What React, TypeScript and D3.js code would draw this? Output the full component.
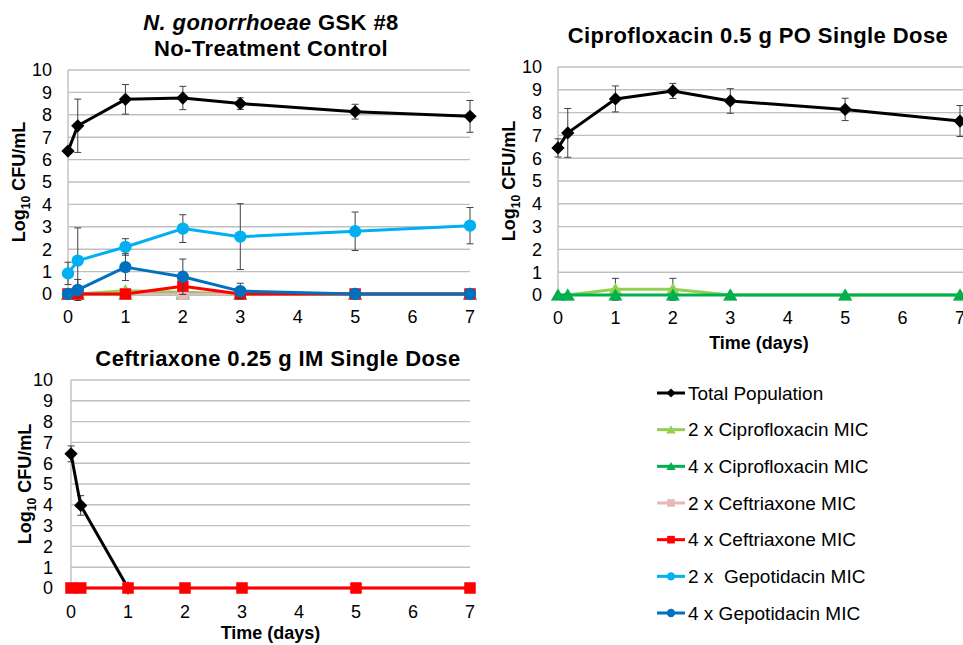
import * as d3 from "d3";

// sampling times (days) and the axis ticks
const days = [0, 0.17, 1, 2, 3, 5, 7];
const xTicks = [0, 1, 2, 3, 4, 5, 6, 7];
const yTicks = [0, 1, 2, 3, 4, 5, 6, 7, 8, 9, 10];

// no-treatment control
const controlTotal = [6.38, 7.51, 8.69, 8.75, 8.5, 8.14, 7.93];
const controlTotalErr = [0.1, 1.19, 0.66, 0.52, 0.26, 0.33, 0.71];
const controlCipro2x = [0, 0, 0.15, 0.08, 0, 0, 0];
const controlCipro4x = [0, 0, 0, 0, 0, 0, 0];
const controlCeft2x = [0, 0, 0, 0, 0, 0, 0];
const controlCeft4x = [0, 0, 0, 0.35, 0, 0, 0];
const controlGepo2x = [0.92, 1.49, 2.1, 2.92, 2.56, 2.8, 3.05];
const controlGepo2xErr = [0.5, 1.46, 0.37, 0.62, 1.47, 0.86, 0.81];
const controlGepo4x = [0, 0.18, 1.2, 0.77, 0.13, 0, 0];
const controlGepo4xErr = [0, 0.47, 0.6, 0.79, 0.35, 0, 0];

// ciprofloxacin 0.5 g
const ciproTotal = [6.45, 7.11, 8.6, 8.95, 8.51, 8.14, 7.63];
const ciproTotalErr = [0.4, 1.07, 0.57, 0.33, 0.54, 0.49, 0.68];
const ciproCipro2x = [0, 0, 0.25, 0.25, 0, 0, 0];
const ciproCipro2xErr = [0, 0, 0.48, 0.48, 0, 0, 0];
const ciproCipro4x = [0, 0, 0, 0, 0, 0, 0];

// ceftriaxone 0.25 g
const ceftTotal = [6.45, 3.97, 0, null, null, null, null];
const ceftTotalErr = [0.38, 0.47, 0, 0, 0, 0, 0];
const ceftCeft2x = [0, 0, 0, 0, 0, 0, 0];
const ceftCeft4x = [0, 0, 0, 0, 0, 0, 0];

const legendNames = [
  "Total Population",
  "2 x Ciprofloxacin MIC",
  "4 x Ciprofloxacin MIC",
  "2 x Ceftriaxone MIC",
  "4 x Ceftriaxone MIC",
  "2 x  Gepotidacin MIC",
  "4 x Gepotidacin MIC",
];

const styles = [
  { color: "#000000", shape: "diamond" },
  { color: "#92d050", shape: "triangle" },
  { color: "#00b050", shape: "triangle" },
  { color: "#e6b9b8", shape: "square" },
  { color: "#ff0000", shape: "square" },
  { color: "#00b0f0", shape: "circle" },
  { color: "#0070c0", shape: "circle" },
];

const font = "'Liberation Sans', Arial, sans-serif";

function markerPath(shape, scale = 1) {
  if (shape === "diamond") return d3.symbol(d3.symbolSquare, 88 * scale)();
  if (shape === "triangle") return d3.symbol(d3.symbolTriangle, 85 * scale)();
  if (shape === "square") return d3.symbol(d3.symbolSquare, 130 * scale)();
  return d3.symbol(d3.symbolCircle, 120 * scale)();
}

function Marker({ shape, color, x, y, scale = 1 }) {
  const rot = shape === "diamond" ? " rotate(45)" : "";
  const dy = shape === "triangle" ? 1.5 * Math.sqrt(scale) : 0;
  return (
    <path
      d={markerPath(shape, scale)}
      transform={`translate(${x},${y + dy})${rot}`}
      fill={color}
    />
  );
}

function Title({ x, y, children }) {
  return (
    <text x={x} y={y} dy="0.35em" textAnchor="middle" fontSize={22} fontWeight="bold" letterSpacing={0.4} fontFamily={font}>
      {children}
    </text>
  );
}

function Panel(props) {
  const { left, right, top, bottom, gridRight, series, tickRight, yLabelX, xTickY, xTitleY } = props;
  const x = d3.scaleLinear().domain([0, 7]).range([left, right]);
  const y = d3.scaleLinear().domain([0, 10]).range([bottom, top]);
  const line = d3
    .line()
    .defined((d) => d[1] != null)
    .x((d) => x(d[0]))
    .y((d) => y(d[1]));

  return (
    <g>
      {yTicks.map((t) => (
        <line key={t} x1={left} x2={gridRight} y1={y(t)} y2={y(t)} stroke="#bfbfbf" strokeWidth={1.4} />
      ))}
      <line x1={left} x2={left} y1={top} y2={bottom} stroke="#bfbfbf" strokeWidth={1.4} />
      {yTicks.map((t) => (
        <text key={t} x={tickRight} y={y(t)} dy="0.35em" textAnchor="end" fontSize={18} fontFamily={font}>
          {t}
        </text>
      ))}
      {xTicks.map((t) => (
        <text key={t} x={x(t)} y={xTickY} dy="0.35em" textAnchor="middle" fontSize={18} fontFamily={font}>
          {t}
        </text>
      ))}
      <text
        transform={`translate(${yLabelX},${(top + bottom) / 2}) rotate(-90)`}
        textAnchor="middle"
        dy="0.35em"
        fontSize={18}
        fontWeight="bold"
        fontFamily={font}
      >
        Log
        <tspan fontSize={12} dy="0.35em">10</tspan>
        <tspan dy="-0.25em"> CFU/mL</tspan>
      </text>
      {xTitleY != null && (
        <text x={(left + right) / 2} y={xTitleY} dy="0.35em" textAnchor="middle" fontSize={18} fontWeight="bold" fontFamily={font}>
          Time (days)
        </text>
      )}
      {series.map((s, si) => {
        const pts = days.map((d, i) => [d, s.values[i]]);
        return (
          <g key={si}>
            {s.errors &&
              pts.map((p, i) =>
                p[1] != null && s.errors[i] > 0 ? (
                  <g key={i} stroke="#404040" strokeWidth={1}>
                    <line x1={x(p[0])} x2={x(p[0])} y1={y(p[1] - s.errors[i])} y2={y(p[1] + s.errors[i])} />
                    <line x1={x(p[0]) - 3.5} x2={x(p[0]) + 3.5} y1={y(p[1] + s.errors[i])} y2={y(p[1] + s.errors[i])} />
                    <line x1={x(p[0]) - 3.5} x2={x(p[0]) + 3.5} y1={y(p[1] - s.errors[i])} y2={y(p[1] - s.errors[i])} />
                  </g>
                ) : null
              )}
            <path d={line(pts)} fill="none" stroke={s.color} strokeWidth={3} strokeLinejoin="round" />
            {pts
              .filter((p) => p[1] != null)
              .map((p, i) => (
                <Marker key={i} shape={s.shape} color={s.color} x={x(p[0])} y={y(p[1])} />
              ))}
          </g>
        );
      })}
    </g>
  );
}

function mk(idx, values, errors = null) {
  return { ...styles[idx], values, errors };
}

export default function App() {
  const controlSeries = [
    mk(0, controlTotal, controlTotalErr),
    mk(1, controlCipro2x),
    mk(2, controlCipro4x),
    mk(3, controlCeft2x),
    mk(4, controlCeft4x),
    mk(5, controlGepo2x, controlGepo2xErr),
    mk(6, controlGepo4x, controlGepo4xErr),
  ];
  const ciproSeries = [mk(0, ciproTotal, ciproTotalErr), mk(1, ciproCipro2x, ciproCipro2xErr), mk(2, ciproCipro4x)];
  const ceftSeries = [mk(0, ceftTotal, ceftTotalErr), mk(3, ceftCeft2x), mk(4, ceftCeft4x)];

  const legendY = d3.scalePoint().domain(legendNames).range([393, 613]);

  return (
    <svg width={963} height={645} style={{ position: "absolute", left: 0, top: 0, background: "#fff" }}>
      <Title x={271} y={22}>
        <tspan fontStyle="italic">N. gonorrhoeae</tspan> GSK #8
      </Title>
      <Title x={271} y={48}>No-Treatment Control</Title>
      <Panel
        left={68} right={470} top={70} bottom={294} gridRight={470}
        series={controlSeries} tickRight={52} yLabelX={19} xTickY={317}
      />

      <Title x={758} y={35}>Ciprofloxacin 0.5 g PO Single Dose</Title>
      <Panel
        left={558} right={960} top={67} bottom={295} gridRight={963}
        series={ciproSeries} tickRight={542} yLabelX={509} xTickY={318} xTitleY={343}
      />

      <Title x={278} y={358}>Ceftriaxone 0.25 g IM Single Dose</Title>
      <Panel
        left={71} right={470} top={380} bottom={588} gridRight={470}
        series={ceftSeries} tickRight={53} yLabelX={25} xTickY={612} xTitleY={633}
      />

      {legendNames.map((name, i) => (
        <g key={name} transform={`translate(0,${legendY(name)})`}>
          <line x1={657} x2={685} y1={0} y2={0} stroke={styles[i].color} strokeWidth={3} />
          <Marker shape={styles[i].shape} color={styles[i].color} x={671} y={0} scale={0.45} />
          <text x={688} y={0} dy="0.35em" fontSize={19} fontFamily={font} style={{ whiteSpace: "pre" }}>
            {name}
          </text>
        </g>
      ))}
    </svg>
  );
}
